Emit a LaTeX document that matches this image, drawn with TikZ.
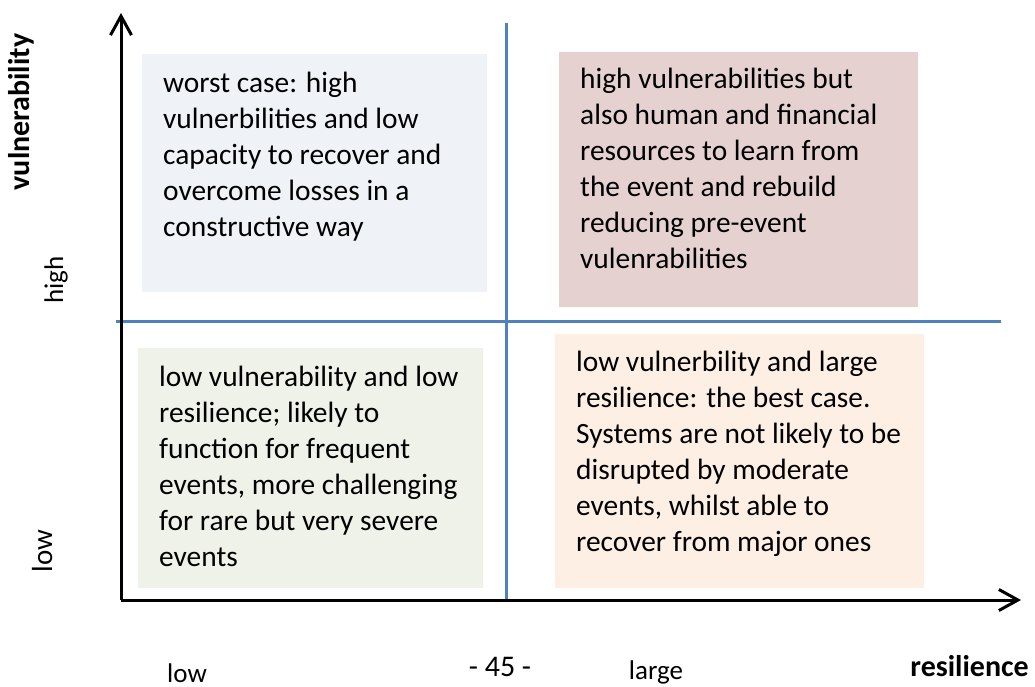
\documentclass[tikz,border=0pt]{standalone}
\usepackage{fontspec}
\setmainfont{Carlito}
\usetikzlibrary{arrows.meta}
\definecolor{qblue}{RGB}{79,129,189}
\definecolor{tlfill}{RGB}{239,243,248}
\definecolor{trfill}{RGB}{230,209,209}
\definecolor{blfill}{RGB}{239,242,232}
\definecolor{brfill}{RGB}{253,239,228}
\tikzset{
  boxtext/.style={anchor=base west, align=left, inner sep=0pt,
    font=\fontsize{29.4}{36}\selectfont},
  axlabel/.style={inner sep=0pt, font=\fontsize{27}{32}\selectfont},
  axbold/.style={inner sep=0pt, font=\fontsize{30}{34}\selectfont\bfseries},
  axisline/.style={line width=3pt, black, -{Straight Barb[length=19pt,width=21pt,line width=3pt]}},
  divline/.style={line width=3pt, qblue}
}
\begin{document}
\begin{tikzpicture}[x=1pt,y=-1pt]
\useasboundingbox (0,0) rectangle (1035,686);
\clip (0,0) rectangle (1035,686);
% quadrant boxes
\fill[tlfill] (142,54) rectangle (487,292);
\fill[trfill] (559,52) rectangle (918,307);
\fill[blfill] (138,348) rectangle (483,588);
\fill[brfill] (555,334) rectangle (924,588);
% divider lines
\coordinate (vtop) at (506,23);
\coordinate (vbot) at (506,600);
\coordinate (hleft) at (116,321);
\coordinate (hright) at (1001,321);
\draw[divline] (vtop) -- (vbot);
\draw[divline] (hleft) -- (hright);
% axes
\coordinate (origin) at (121,600);
\coordinate (ytip) at (121,13);
\coordinate (xtip) at (1021,600);
\draw[axisline] (origin) -- (ytip);
\draw[axisline] (origin) -- (xtip);
% box texts (anchored at the baseline of the last line)
\node[boxtext] (tl) at (163,236) {worst case: high\\vulnerbilities and low\\capacity to recover and\\overcome losses in a\\constructive way};
\node[boxtext] (tr) at (580,268) {high vulnerabilities but\\also human and financial\\resources to learn from\\the event and rebuild\\reducing pre-event\\vulenrabilities};
\node[boxtext] (bl) at (159,566) {low vulnerability and low\\resilience; likely to\\function for frequent\\events, more challenging\\for rare but very severe\\events};
\node[boxtext] (br) at (576,551) {low vulnerbility and large\\resilience: the best case.\\Systems are not likely to be\\disrupted by moderate\\events, whilst able to\\recover from major ones};
% axis labels
\node[axbold, rotate=90, anchor=base] (vul) at (29,112) {vulnerability};
\node[axlabel, rotate=90, anchor=base] (high) at (63,280) {high};
\node[axlabel, rotate=90, anchor=base, font=\fontsize{29}{32}\selectfont] (lowy) at (52,551) {low};
\node[axlabel, anchor=base] (lowx) at (187,682) {low};
\node[axlabel, anchor=base, font=\fontsize{30}{32}\selectfont] (page) at (500,676) {- 45 -};
\node[axlabel, anchor=base] (large) at (656,679) {large};
\node[axbold, anchor=base east] (res) at (1029,676) {resilience};
\end{tikzpicture}
\end{document}
